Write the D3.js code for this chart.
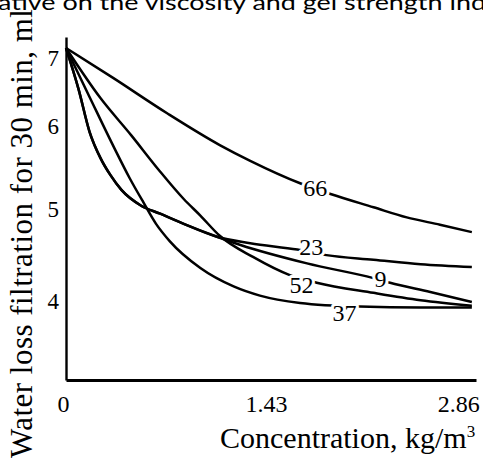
<!DOCTYPE html>
<html>
<head>
<meta charset="utf-8">
<script src="https://cdn.jsdelivr.net/npm/d3@7"></script>
<style>
  body { margin: 0; background: #fff; }
  svg { display: block; }
</style>
</head>
<body>
<div id="chart"></div>
<script>
(function() {
    'use strict';

    // concentration, kg/m3 (x) and water loss, ml (y)
    var conc66 = [0, 0.34, 0.73, 1.11, 1.33, 1.69, 1.91, 2.22, 2.46, 2.70, 2.93];
    var loss66 = [7.0, 6.56, 6.04, 5.65, 5.46, 5.19, 5.06, 4.91, 4.80, 4.72, 4.64];

    var conc23 = [0, 0.09, 0.17, 0.25, 0.32, 0.40, 0.54, 0.68, 0.85, 1.09, 1.33, 1.67, 1.88, 2.22, 2.56, 2.93];
    var loss23 = [7.0, 6.40, 5.81, 5.49, 5.29, 5.11, 4.93, 4.84, 4.73, 4.59, 4.52, 4.45, 4.39, 4.34, 4.29, 4.26];

    var conc9 = [0, 0.09, 0.17, 0.25, 0.32, 0.40, 0.54, 0.68, 0.85, 1.09, 1.26, 1.74, 2.22, 2.34, 2.63, 2.93];
    var loss9 = [7.0, 6.40, 5.81, 5.49, 5.29, 5.11, 4.93, 4.84, 4.73, 4.59, 4.50, 4.30, 4.14, 4.09, 3.99, 3.88];

    var conc52 = [0, 0.25, 0.47, 0.67, 0.85, 0.97, 1.11, 1.35, 1.62, 1.81, 2.22, 2.56, 2.93];
    var loss52 = [7.0, 6.26, 5.77, 5.35, 5.00, 4.82, 4.60, 4.37, 4.17, 4.09, 3.98, 3.90, 3.84];

    var conc37 = [0, 0.17, 0.35, 0.46, 0.56, 0.65, 0.75, 0.97, 1.21, 1.40, 1.69, 2.12, 2.56, 2.93];
    var loss37 = [7.0, 6.28, 5.61, 5.25, 4.96, 4.73, 4.54, 4.25, 4.05, 3.95, 3.87, 3.83, 3.82, 3.82];

    var seriesNames = ['66', '23', '9', '52', '37'];
    var labelConc = [1.80, 1.77, 2.27, 1.70, 2.01];
    var labelLoss = [5.13, 4.48, 4.13, 4.07, 3.76];

    var xTicks = [0, 1.43, 2.86];
    var yTicks = [4, 5, 6, 7];

    var width = 483, height = 461;
    var serif = '"Liberation Serif", "Times New Roman", serif';

    var series = [
        {name: seriesNames[0], conc: conc66, loss: loss66},
        {name: seriesNames[1], conc: conc23, loss: loss23},
        {name: seriesNames[2], conc: conc9, loss: loss9},
        {name: seriesNames[3], conc: conc52, loss: loss52},
        {name: seriesNames[4], conc: conc37, loss: loss37}
    ];

    var x = d3.scaleLinear().domain([0, 2.96]).range([66, 476]);
    // the scanned axis is not evenly spaced, so the scale follows its tick marks
    var y = d3.scaleLinear().domain([3.03, 4, 5, 6, 7, 7.15]).range([380, 291, 199, 116, 48, 37]);

    var svg = d3.select('#chart').append('svg')
        .attr('width', width).attr('height', height)
        .style('background', '#fff');

    /* cut-off caption line from the page above */
    svg.append('text')
        .attr('x', -2).attr('y', 9.5)
        .attr('textLength', 488).attr('lengthAdjust', 'spacingAndGlyphs')
        .style('font-family', '"Lato", "Open Sans", sans-serif')
        .style('font-size', '22px')
        .text('ative on the viscosity and gel strength ind');

    /* Axes */
    var yAxis = svg.append('g')
        .attr('transform', 'translate(' + x(0) + ',0)')
        .call(d3.axisLeft(y).tickValues(yTicks).tickSize(0).tickFormat(d3.format('d')));
    yAxis.select('.domain').attr('stroke', '#000').attr('stroke-width', 2.4);
    yAxis.selectAll('text')
        .attr('x', -7).attr('dy', '0.75em')
        .style('font-family', serif).style('font-size', '23px').attr('fill', '#000');

    var xAxis = svg.append('g')
        .attr('transform', 'translate(0,' + y(3.03) + ')')
        .call(d3.axisBottom(x).tickValues(xTicks).tickSize(0).tickFormat(function(d) { return d === 0 ? '0' : d3.format('.2f')(d); }));
    xAxis.select('.domain').attr('stroke', '#000').attr('stroke-width', 2.8);
    xAxis.selectAll('text')
        .attr('y', 15).attr('dy', '0.71em')
        .attr('dx', function(d, i) { return i === 0 ? -3 : (i === xTicks.length - 1 ? -4 : 2); })
        .style('font-family', serif).style('font-size', '24px').attr('fill', '#000');

    /* Axis titles */
    svg.append('text')
        .attr('transform', 'translate(32,458) rotate(-90)')
        .attr('textLength', 449).attr('lengthAdjust', 'spacing')
        .style('font-family', serif).style('font-size', '31px')
        .text('Water loss filtration for 30 min, ml');

    var xTitle = svg.append('text')
        .attr('x', 220).attr('y', 448)
        .style('font-family', serif).style('font-size', '30px');
    xTitle.append('tspan').text('Concentration, kg/m');
    xTitle.append('tspan').attr('dy', -11).style('font-size', '17px').text('3');

    /* Curves */
    var line = d3.line()
        .x(function(d) { return x(d[0]); })
        .y(function(d) { return y(d[1]); })
        .curve(d3.curveMonotoneX);

    svg.selectAll('.curve').data(series).enter().append('path')
        .attr('class', 'curve')
        .attr('d', function(s) { return line(d3.zip(s.conc, s.loss)); })
        .attr('fill', 'none')
        .attr('stroke', '#000')
        .attr('stroke-width', 2.5);

    /* Curve numbers, with a white halo that breaks the line */
    svg.selectAll('.curve-label').data(series).enter().append('text')
        .attr('class', 'curve-label')
        .attr('x', function(s, i) { return x(labelConc[i]); })
        .attr('y', function(s, i) { return y(labelLoss[i]); })
        .attr('dy', '0.34em')
        .style('text-anchor', 'middle')
        .style('font-family', serif).style('font-size', '24px')
        .style('paint-order', 'stroke')
        .attr('stroke', '#fff').attr('stroke-width', 6).attr('stroke-linejoin', 'round')
        .attr('fill', '#000')
        .text(function(s) { return s.name; });
})();
</script>
</body>
</html>
